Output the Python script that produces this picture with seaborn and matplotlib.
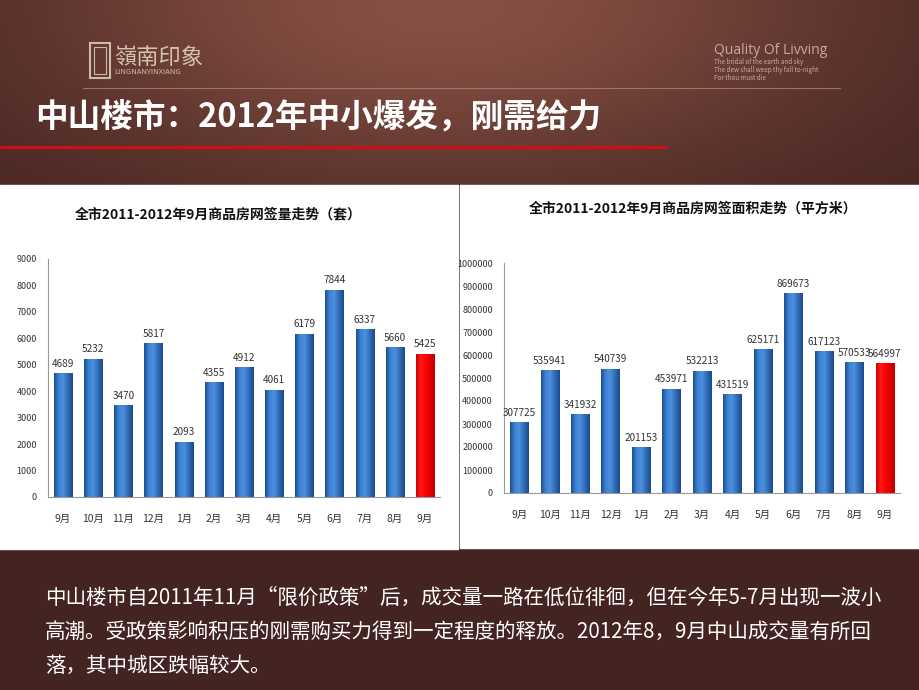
import numpy as np
import pandas as pd
import matplotlib
matplotlib.use("Agg")
import matplotlib.pyplot as plt
from matplotlib.patches import Rectangle
from matplotlib.colors import LinearSegmentedColormap
from matplotlib.ticker import FuncFormatter
import seaborn as sns

# data
months = ["9月", "10月", "11月", "12月", "1月", "2月", "3月", "4月", "5月", "6月", "7月", "8月", "9月"]
deals = [4689, 5232, 3470, 5817, 2093, 4355, 4912, 4061, 6179, 7844, 6337, 5660, 5425]
area = [307725, 535941, 341932, 540739, 201153, 453971, 532213, 431519, 625171, 869673, 617123, 570533, 564997]
deal_ticks = list(range(0, 9001, 1000))
area_ticks = list(range(0, 1000001, 100000))

title = "中山楼市：2012年中小爆发，刚需给力"
left_title = "全市2011-2012年9月商品房网签量走势（套）"
right_title = "全市2011-2012年9月商品房网签面积走势（平方米）"
body = ["中山楼市自2011年11月“限价政策”后，成交量一路在低位徘徊，但在今年5-7月出现一波小",
        "高潮。受政策影响积压的刚需购买力得到一定程度的释放。2012年8，9月中山成交量有所回",
        "落，其中城区跌幅较大。"]

sns.set_theme(style="white")
plt.rcParams["font.family"] = ["Noto Sans CJK SC", "DejaVu Sans"]

fig = plt.figure(figsize=(9.2, 6.9), dpi=100)

# background gradient
bg = fig.add_axes([0, 0, 1, 1])
bg.set_axis_off()
H, W = 690, 920
yy, xx = np.mgrid[0:H, 0:W]
base = np.array([68, 36, 32]) / 255.0
glow = np.array([135, 80, 68]) / 255.0
g = np.exp(-(((xx - 440) / 420.0) ** 2 + ((yy - 0) / 190.0) ** 2))
g = g * (yy < 185) + 0.3 * g * (yy >= 185)
img = base[None, None, :] * (1 - g[..., None]) + glow[None, None, :] * g[..., None]
bg.imshow(img, extent=[0, W, H, 0], aspect="auto")
bg.set_xlim(0, W)
bg.set_ylim(H, 0)

# header decorations
bg.plot([83, 840], [88, 88], color="#a88572", lw=0.8, alpha=0.8)
bg.plot([0, 665], [147, 147], color="#d01010", lw=2.2)
bg.add_patch(Rectangle((90, 43), 20, 35, fill=False, ec="#cdbba5", lw=1.5))
bg.add_patch(Rectangle((94, 47), 12, 27, fill=False, ec="#cdbba5", lw=0.8))
bg.text(114, 57, "嶺南印象", color="#d4c3ad", fontsize=16, va="center", ha="left")
bg.text(114, 72, "LINGNANYINXIANG", color="#cdbba5", fontsize=5.5, va="center", ha="left")
bg.text(714, 50, "Quality Of Livving", color="#c9aaa6", fontsize=10, va="center", family=["Open Sans", "DejaVu Sans"])
bg.text(714, 62, "The bridal of the earth and sky", color="#c9aaa6", fontsize=4.5, va="center")
bg.text(714, 70, "The dew shall weep thy fall to-night", color="#c9aaa6", fontsize=4.5, va="center")
bg.text(714, 78, "For thou must die", color="#c9aaa6", fontsize=4.5, va="center")
bg.text(35, 117, title, color="white", fontsize=23.5, fontweight="bold", va="center")

# white chart panels
bg.add_patch(Rectangle((0, 185), 458, 364, color="white", zorder=2))
bg.add_patch(Rectangle((460, 185), 460, 363, color="white", zorder=2))
bg.text(218, 214, left_title, fontsize=10, fontweight="bold", ha="center", va="center", color="#111111", zorder=3)
bg.text(693, 209, right_title, fontsize=10, fontweight="bold", ha="center", va="center", color="#111111", zorder=3)

for i, line in enumerate(body):
    bg.text(45, 598 + 34 * i, line, color="white", fontsize=14.8, va="center", ha="left")

blue_map = LinearSegmentedColormap.from_list("bar", ["#1d4f91", "#3f84d4", "#4b8fdc", "#2f6ab5", "#1b4a88"])
red_map = LinearSegmentedColormap.from_list("red", ["#d00000", "#ff1a1a", "#ff0000", "#e00000", "#c00000"])


def draw(rect, values, ticks, ymax):
    ax = fig.add_axes(rect)
    ax.patch.set_alpha(0)
    df = pd.DataFrame({"pos": list(range(len(values))), "val": values})
    pal = ["#3a78c6"] * (len(values) - 1) + ["#ff0000"]
    sns.barplot(data=df, x="pos", y="val", hue="pos", palette=pal, legend=False,
                width=0.6, ax=ax, saturation=1)
    grad = np.linspace(0, 1, 64).reshape(1, -1)
    for k, bar in enumerate(ax.patches):
        x0, y0 = bar.get_x(), bar.get_y()
        w, h = bar.get_width(), bar.get_height()
        cm = red_map if k == len(values) - 1 else blue_map
        im = ax.imshow(grad, cmap=cm, extent=[x0, x0 + w, y0, y0 + h], aspect="auto", zorder=2)
        im.set_clip_path(bar)
    for c in ax.containers:
        ax.bar_label(c, fontsize=7.2, color="#333333", padding=3)
    ax.set_xlim(-0.5, len(values) - 0.5)
    ax.set_ylim(0, ymax)
    ax.set_yticks(ticks)
    ax.yaxis.set_major_formatter(FuncFormatter(lambda v, p: "%d" % v))
    ax.set_xticks(range(len(values)))
    ax.set_xticklabels(months)
    ax.tick_params(axis="y", labelsize=6.5, colors="#333333", length=0, pad=8)
    ax.tick_params(axis="x", labelsize=7.5, colors="#333333", length=0, pad=12)
    ax.set_xlabel("")
    ax.set_ylabel("")
    for s in ["top", "right"]:
        ax.spines[s].set_visible(False)
    for s in ["left", "bottom"]:
        ax.spines[s].set_color("#999999")
        ax.spines[s].set_linewidth(0.8)
    return ax


draw([48 / 920, 193 / 690, 392 / 920, 238 / 690], deals, deal_ticks, 9000)
draw([504 / 920, 197 / 690, 396 / 920, 230 / 690], area, area_ticks, 1000000)

fig.savefig("out.png", dpi=100)
